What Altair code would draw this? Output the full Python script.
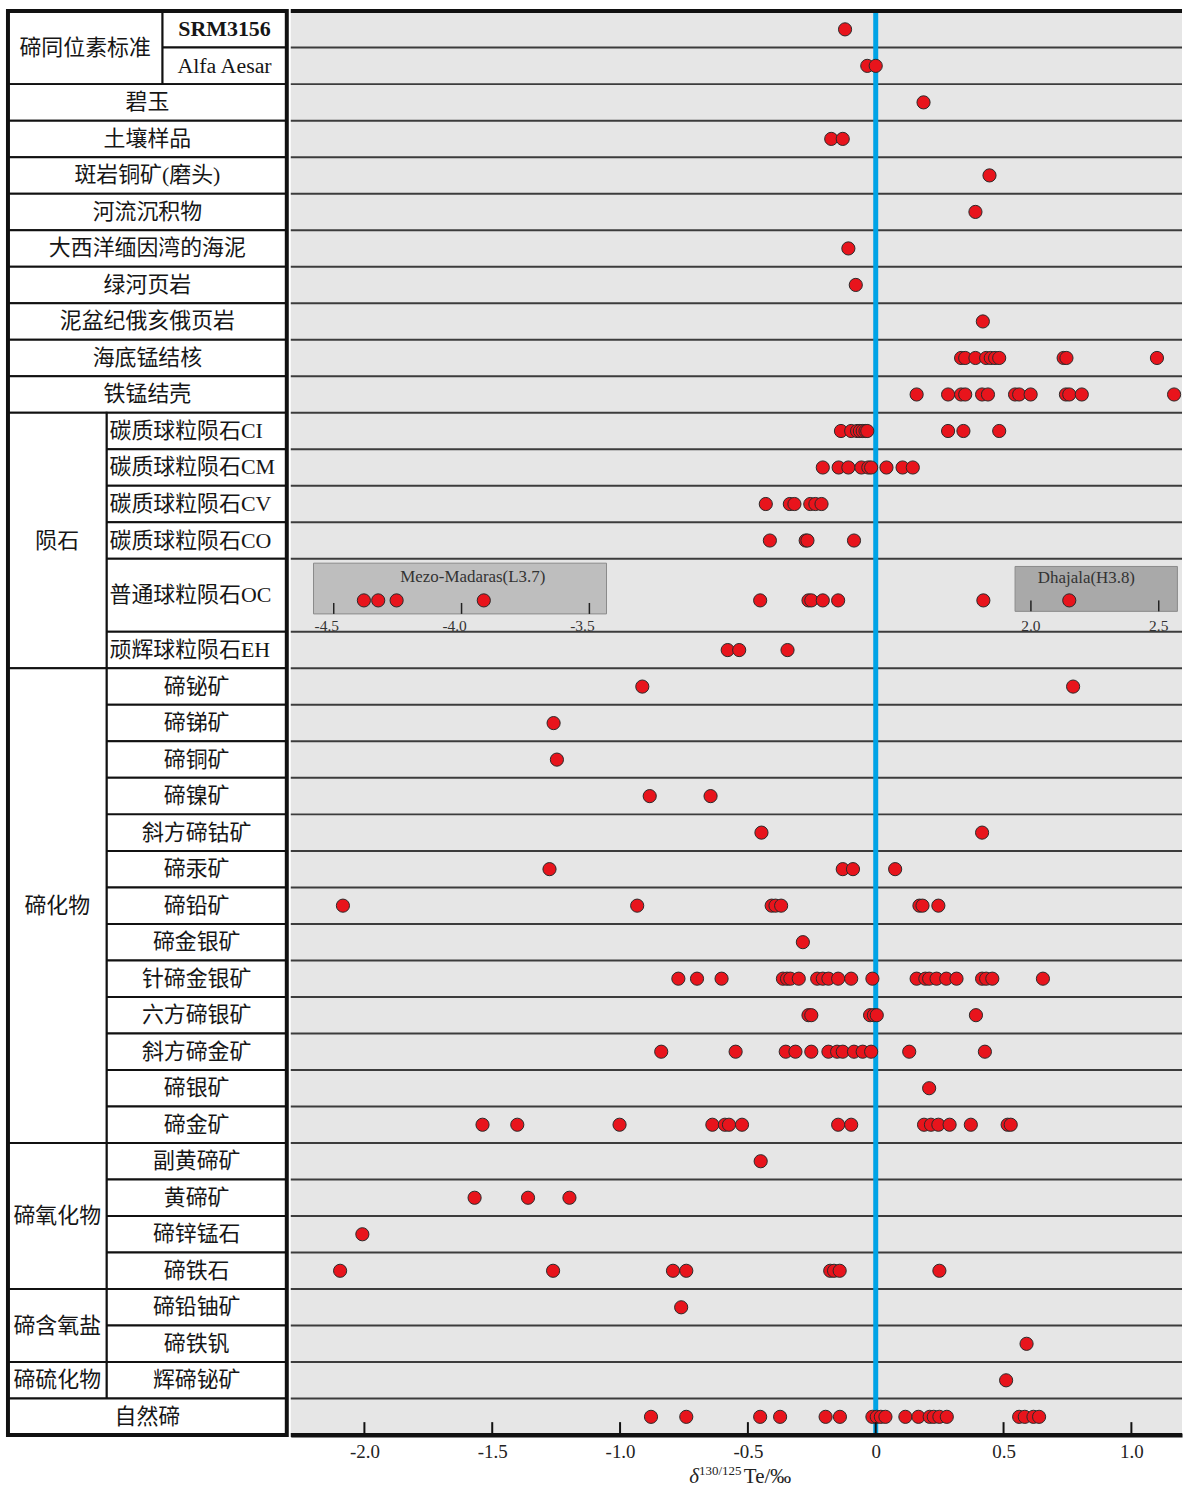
import altair as alt
import pandas as pd

# ---------------------------------------------------------------------------
# delta 130/125 Te (per mil) by sample type
# ---------------------------------------------------------------------------
std_labels = ["SRM3156", "Alfa Aesar"]
std_values = [[-0.120], [-0.033, 0.000]]

env_labels = ["碧玉", "土壤样品", "斑岩铜矿(磨头)", "河流沉积物", "大西洋缅因湾的海泥",
              "绿河页岩", "泥盆纪俄亥俄页岩", "海底锰结核", "铁锰结壳"]
env_values = [
    [0.187],
    [-0.174, -0.129],
    [0.445],
    [0.390],
    [-0.107],
    [-0.078],
    [0.419],
    [0.334, 0.350, 0.390, 0.432, 0.450, 0.467, 0.483, 0.735, 0.746, 1.100],
    [0.160, 0.283, 0.334, 0.350, 0.416, 0.439, 0.545, 0.561, 0.606, 0.744, 0.757, 0.806, 1.167],
]

met_labels = ["碳质球粒陨石CI", "碳质球粒陨石CM", "碳质球粒陨石CV", "碳质球粒陨石CO",
              "普通球粒陨石OC", "顽辉球粒陨石EH"]
met_values = [
    [-0.136, -0.096, -0.073, -0.062, -0.051, -0.040, -0.033, 0.283, 0.343, 0.483],
    [-0.207, -0.145, -0.107, -0.056, -0.029, -0.018, 0.042, 0.105, 0.145],
    [-0.430, -0.336, -0.318, -0.256, -0.236, -0.212],
    [-0.414, -0.274, -0.267, -0.085],
    [-0.452, -0.263, -0.252, -0.207, -0.147, 0.421],
    [-0.579, -0.534, -0.345],
]
met_spans = [1, 1, 1, 1, 2, 1]

tel_labels = ["碲铋矿", "碲锑矿", "碲铜矿", "碲镍矿", "斜方碲钴矿", "碲汞矿", "碲铅矿",
              "碲金银矿", "针碲金银矿", "六方碲银矿", "斜方碲金矿", "碲银矿", "碲金矿"]
tel_values = [
    [-0.913, 0.772],
    [-1.260],
    [-1.247],
    [-0.884, -0.646],
    [-0.447, 0.416],
    [-1.276, -0.129, -0.089, 0.076],
    [-2.084, -0.933, -0.407, -0.392, -0.370, 0.171, 0.183, 0.245],
    [-0.285],
    [-0.772, -0.699, -0.603, -0.363, -0.347, -0.334, -0.301, -0.229, -0.207, -0.185,
     -0.147, -0.096, -0.013, 0.160, 0.194, 0.209, 0.238, 0.276, 0.316, 0.416, 0.432,
     0.456, 0.654],
    [-0.263, -0.252, -0.022, -0.007, 0.004, 0.392],
    [-0.839, -0.548, -0.352, -0.314, -0.252, -0.185, -0.151, -0.129, -0.085, -0.051,
     -0.018, 0.131, 0.427],
    [0.209],
    [-1.538, -1.402, -1.002, -0.639, -0.590, -0.574, -0.523, -0.147, -0.096, 0.189,
     0.216, 0.245, 0.289, 0.372, 0.516, 0.528],
]

oxi_labels = ["副黄碲矿", "黄碲矿", "碲锌锰石", "碲铁石"]
oxi_values = [
    [-0.450],
    [-1.569, -1.360, -1.198],
    [-2.008],
    [-2.095, -1.262, -0.793, -0.741, -0.178, -0.163, -0.141, 0.249],
]

oxs_labels = ["碲铅铀矿", "碲铁钒"]
oxs_values = [[-0.761], [0.590]]

sul_labels = ["辉碲铋矿"]
sul_values = [[0.510]]

nat_labels = ["自然碲"]
nat_values = [[-0.879, -0.741, -0.452, -0.374, -0.196, -0.140, -0.013, 0.004, 0.020,
               0.038, 0.116, 0.167, 0.211, 0.227, 0.249, 0.278, 0.561, 0.583, 0.617,
               0.639]]

# ordinary chondrite outliers shown in the two insets (own axes)
mezo_values = [-4.382, -4.326, -4.254, -3.913]
mezo_ticks = [-4.5, -4.0, -3.5]
dhajala_values = [2.150]
dhajala_ticks = [2.0, 2.5]

x_ticks = [-2.0, -1.5, -1.0, -0.5, 0.0, 0.5, 1.0]

# ---------------------------------------------------------------------------
# layout
# ---------------------------------------------------------------------------
FONT = "Liberation Serif, Noto Sans CJK SC"
LABEL_SIZE = 22
TABLE_W = 280
PLOT_W = 895
H = 1430
N_UNITS = 39
OC_DOT_Y = 16.14
DOT_SIZE = 175
DOT_FILL = "#e8141c"
DOT_STROKE = "#2a2a2a"
PX = N_UNITS / H          # one pixel in row units
XPX = (1.198 + 2.288) / PLOT_W  # one pixel in data units

sections = [
    ("碲同位素标准", std_labels, std_values, None),
    (None, env_labels, env_values, None),
    ("陨石", met_labels, met_values, met_spans),
    ("碲化物", tel_labels, tel_values, None),
    ("碲氧化物", oxi_labels, oxi_values, None),
    ("碲含氧盐", oxs_labels, oxs_values, None),
    ("碲硫化物", sul_labels, sul_values, None),
    (None, nat_labels, nat_values, None),
]

cells, texts, pts, bounds = [], [], [], []
cursor = 0
for group, labels, values, spans in sections:
    spans = spans or [1] * len(labels)
    start = cursor
    split = 155 if group == "碲同位素标准" else 99
    for lab, vals, sp in zip(labels, values, spans):
        r0, r1 = cursor, cursor + sp
        mid = (r0 + r1) / 2
        if group is None:
            cells.append(dict(x0=0, x1=TABLE_W, y0=r0, y1=r1))
            texts.append(dict(label=lab, x=TABLE_W / 2, y=mid, kind="center"))
        else:
            cells.append(dict(x0=split, x1=TABLE_W, y0=r0, y1=r1))
            if group == "陨石":
                texts.append(dict(label=lab, x=split + 3, y=mid, kind="left"))
            else:
                texts.append(dict(label=lab, x=(split + TABLE_W) / 2, y=mid,
                                  kind="bold" if lab == "SRM3156" else "center"))
        dot_y = OC_DOT_Y if sp > 1 else mid
        for v in vals:
            pts.append(dict(row=lab, value=v, y=dot_y))
        cursor = r1
        bounds.append(r1)
    if group is not None:
        cells.append(dict(x0=0, x1=split, y0=start, y1=cursor))
        texts.append(dict(label=group, x=split / 2, y=(start + cursor) / 2, kind="center"))

cells_df = pd.DataFrame(cells)
texts_df = pd.DataFrame(texts)
pts_df = pd.DataFrame(pts)
lines_df = pd.DataFrame({"y": [b for b in bounds if b < N_UNITS]})

xs_t = alt.Scale(domain=[0, TABLE_W], nice=False, zero=False)
ys = alt.Scale(domain=[0, N_UNITS], reverse=True, nice=False, zero=False)
xs = alt.Scale(domain=[-2.288, 1.198], nice=False, zero=False)

# one shared bottom axis for every layer of the dot plot
x_axis = alt.Axis(
    values=x_ticks,
    labelExpr="datum.value == 0 ? '0' : (datum.value < 0 ? '-' : '') + format(abs(datum.value), '.1f')",
    ticks=False, tickSize=0, domain=True, domainColor="#111", domainWidth=4,
    labelFont="Liberation Serif", labelFontSize=19, labelColor="#222",
    labelPadding=8, grid=False, title=None, labelFlush=False,
)


def X(field):
    return alt.X(field, scale=xs, axis=x_axis, title=None)


def Y(field):
    return alt.Y(field, scale=ys, axis=None)


# ---------------------------------------------------------------------------
# left-hand label table
# ---------------------------------------------------------------------------
cell_rects = alt.Chart(cells_df).mark_rect(fill="white", stroke="#111", strokeWidth=2).encode(
    x=alt.X("x0:Q", scale=xs_t, axis=None), x2="x1:Q",
    y=Y("y0:Q"), y2="y1:Q",
)
frame = alt.Chart(pd.DataFrame([dict(x0=0, x1=TABLE_W, y0=0, y1=N_UNITS)])).mark_rect(
    fill="white", fillOpacity=0, stroke="#111", strokeWidth=4
).encode(
    x=alt.X("x0:Q", scale=xs_t, axis=None), x2="x1:Q",
    y=Y("y0:Q"), y2="y1:Q",
)


def label_layer(kind, align, weight):
    return alt.Chart(texts_df).transform_filter(
        alt.datum.kind == kind
    ).mark_text(font=FONT, fontSize=LABEL_SIZE, color="#161616", align=align,
                baseline="middle", fontWeight=weight).encode(
        x=alt.X("x:Q", scale=xs_t, axis=None),
        y=Y("y:Q"),
        text="label:N",
    )


table = alt.layer(
    cell_rects,
    label_layer("center", "center", "normal"),
    label_layer("bold", "center", "bold"),
    label_layer("left", "left", "normal"),
    frame,
).properties(width=TABLE_W, height=H, view=alt.ViewBackground(fill="white", stroke=None))

# ---------------------------------------------------------------------------
# insets for the ordinary chondrite outliers
# ---------------------------------------------------------------------------
insets = [
    dict(title="Mezo-Madaras(L3.7)", lo=-4.579, hi=-3.433, shift=2.38, fill="#bebebe",
         top=15.12, bottom=16.51, title_x=-3.956, title_y=15.51,
         values=mezo_values, ticks=mezo_ticks),
    dict(title="Dhajala(H3.8)", lo=1.938, hi=2.573, shift=-1.393, fill="#a9a9a9",
         top=15.21, bottom=16.44, title_x=2.217, title_y=15.54,
         values=dhajala_values, ticks=dhajala_ticks),
]
box_rows, tick_rows, ipt_rows, title_rows = [], [], [], []
for ins in insets:
    s = ins["shift"]
    box_rows.append(dict(x0=ins["lo"] + s, x1=ins["hi"] + s, y0=ins["top"],
                         y1=ins["bottom"], fill=ins["fill"]))
    for t in ins["ticks"]:
        # negative labels sit a little left so the digits centre on the tick
        lx = t + s - (7 * XPX if t < 0 else 0)
        tick_rows.append(dict(x=t + s, lx=lx, y0=ins["bottom"], y1=ins["bottom"] - 11 * PX,
                              ylab=16.84, label=f"{t:.1f}"))
    for v in ins["values"]:
        ipt_rows.append(dict(value=v + s, y=OC_DOT_Y))
    title_rows.append(dict(x=ins["title_x"] + s, y=ins["title_y"], label=ins["title"]))

boxes = alt.Chart(pd.DataFrame(box_rows)).mark_rect(stroke="#8a8a8a", strokeWidth=1).encode(
    x=X("x0:Q"), x2="x1:Q",
    y=Y("y0:Q"), y2="y1:Q",
    fill=alt.Fill("fill:N", scale=None),
)
tick_df = pd.DataFrame(tick_rows)
inset_ticks = alt.Chart(tick_df).mark_rule(color="#222", strokeWidth=1.5).encode(
    x=X("x:Q"), y=Y("y0:Q"), y2="y1:Q",
)
inset_tick_labels = alt.Chart(tick_df).mark_text(
    font="Liberation Serif", fontSize=15.5, color="#333", baseline="middle"
).encode(x=X("lx:Q"), y=Y("ylab:Q"), text="label:N")
inset_titles = alt.Chart(pd.DataFrame(title_rows)).mark_text(
    font="Liberation Serif", fontSize=17, color="#333", baseline="middle"
).encode(x=X("x:Q"), y=Y("y:Q"), text="label:N")
inset_points = alt.Chart(pd.DataFrame(ipt_rows)).mark_point(
    shape="circle", filled=True, size=DOT_SIZE, fill=DOT_FILL, stroke=DOT_STROKE,
    strokeWidth=1, opacity=1
).encode(x=X("value:Q"), y=Y("y:Q"))

# ---------------------------------------------------------------------------
# main dot plot
# ---------------------------------------------------------------------------
row_lines = alt.Chart(lines_df).mark_rule(color="#3c3c3c", strokeWidth=2).encode(
    y=Y("y:Q"),
)


def frame_line(ypix):
    # thick frame line running along the full width of the plotting area
    return alt.Chart(pd.DataFrame({"edge": [ypix]})).mark_rule(
        color="#111", strokeWidth=4
    ).encode(x=alt.value(0), x2=alt.value(PLOT_W), y=alt.value(ypix))


zero_line = alt.Chart(pd.DataFrame({"x": [0.0], "y0": [0], "y1": [N_UNITS]})).mark_rule(
    color="#00a3e6", strokeWidth=5
).encode(x=X("x:Q"), y=Y("y0:Q"), y2="y1:Q")
# short inward tick marks rising from the bottom axis line
inner_ticks = alt.Chart(pd.DataFrame({"x": x_ticks})).mark_rule(
    color="#111", strokeWidth=2
).encode(x=X("x:Q"), y=alt.value(H - 13), y2=alt.value(H))
dots = alt.Chart(pts_df).mark_point(
    shape="circle", filled=True, size=DOT_SIZE, fill=DOT_FILL, stroke=DOT_STROKE,
    strokeWidth=1, opacity=1
).encode(
    x=X("value:Q"),
    y=Y("y:Q"),
    tooltip=["row:N", "value:Q"],
)

# axis title: delta^{130/125}Te/‰
t_delta = alt.Chart(pd.DataFrame({"t": ["δ"]})).mark_text(
    font="Liberation Serif", fontSize=21, fontStyle="italic", color="#222",
    align="right", baseline="alphabetic"
).encode(x=alt.value(410), y=alt.value(1478), text="t:N")
t_sup = alt.Chart(pd.DataFrame({"t": ["130/125"]})).mark_text(
    font="Liberation Serif", fontSize=13, color="#222", align="left", baseline="alphabetic"
).encode(x=alt.value(410), y=alt.value(1470), text="t:N")
t_unit = alt.Chart(pd.DataFrame({"t": ["Te/‰"]})).mark_text(
    font="Liberation Serif", fontSize=21, color="#222", align="left", baseline="alphabetic"
).encode(x=alt.value(455), y=alt.value(1478), text="t:N")

plot = alt.layer(
    boxes, row_lines, zero_line, inset_ticks, inset_tick_labels,
    inset_titles, inset_points, dots, inner_ticks, frame_line(0), frame_line(H),
    t_delta, t_sup, t_unit,
).properties(width=PLOT_W, height=H, view=alt.ViewBackground(fill="#e6e6e6", stroke=None))

chart = alt.hconcat(table, plot, spacing=0).properties(
    padding={"left": 6, "top": 5, "right": 0, "bottom": 0}
).configure_view(stroke=None)

chart.save("out.html", embed_options={"renderer": "svg", "actions": False})
